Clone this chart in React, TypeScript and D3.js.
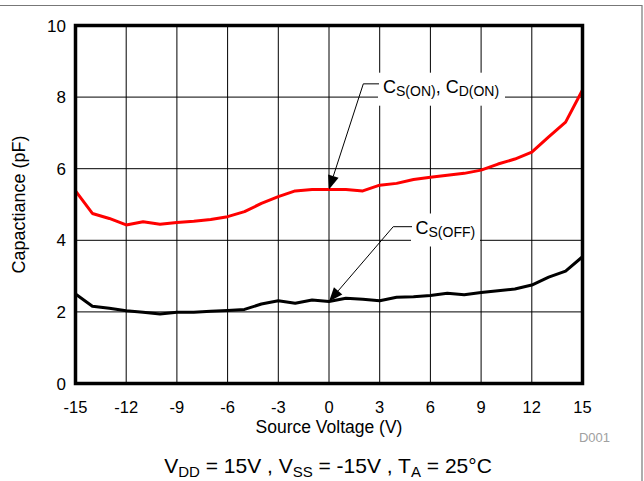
import React from "react";
import * as d3 from "d3";

// Source voltage sweep (V)
const voltages = [
  -15, -14, -13, -12, -11, -10, -9, -8, -7, -6, -5, -4, -3, -2, -1, 0, 1, 2, 3, 4, 5, 6, 7, 8, 9, 10, 11,
  12, 13, 14, 15,
];

// On-state capacitance C_S(ON), C_D(ON) (pF)
const cOn = [
  5.38, 4.75, 4.61, 4.43, 4.52, 4.45, 4.5, 4.53, 4.58, 4.66, 4.8, 5.03, 5.22, 5.38, 5.42, 5.42, 5.42, 5.38,
  5.54, 5.59, 5.7, 5.76, 5.82, 5.87, 5.96, 6.13, 6.27, 6.46, 6.89, 7.3, 8.2,
];

// Off-state capacitance C_S(OFF) (pF)
const cOff = [
  2.5, 2.16, 2.1, 2.03, 1.99, 1.94, 1.99, 1.99, 2.02, 2.04, 2.07, 2.22, 2.31, 2.24, 2.33, 2.29, 2.38, 2.35,
  2.31, 2.41, 2.42, 2.46, 2.52, 2.48, 2.54, 2.59, 2.64, 2.75, 2.97, 3.14, 3.54,
];

const xTicks = [-15, -12, -9, -6, -3, 0, 3, 6, 9, 12, 15];
const yTicks = [0, 2, 4, 6, 8, 10];

const FONT = "'Liberation Sans', Arial, Helvetica, sans-serif";

type Pt = [number, number];

function Arrow({ from, to }: { from: Pt; to: Pt }) {
  const dx = to[0] - from[0];
  const dy = to[1] - from[1];
  const len = Math.hypot(dx, dy);
  const ux = dx / len;
  const uy = dy / len;
  const headLen = 14;
  const halfW = 5.5;
  const bx = to[0] - ux * headLen;
  const by = to[1] - uy * headLen;
  const head = [
    [to[0], to[1]],
    [bx - uy * halfW, by + ux * halfW],
    [bx + uy * halfW, by - ux * halfW],
  ]
    .map((p) => p.join(","))
    .join(" ");
  return (
    <g>
      <line x1={from[0]} y1={from[1]} x2={bx} y2={by} stroke="#000" strokeWidth={1} />
      <polygon points={head} fill="#000" />
    </g>
  );
}

export default function App() {
  const W = 644;
  const H = 481;
  const x = d3.scaleLinear().domain([-15, 15]).range([75.5, 582.5]);
  const y = d3.scaleLinear().domain([0, 10]).range([383.5, 25.5]);

  const line = d3
    .line<number>()
    .x((_, i) => x(voltages[i]))
    .y((d) => y(d));

  const i0 = voltages.indexOf(0);

  // annotation geometry
  const onTip: Pt = [x(0), y(cOn[i0])];
  const onElbow: Pt = [x(2.03), y(8.37)];
  const onBaseline = 92.7;
  const offTip: Pt = [x(0), y(cOff[i0])];
  const offElbow: Pt = [x(3.8), y(4.38)];
  const offBaseline = 233.5;

  return (
    <div style={{ position: "fixed", left: 0, top: 0 }}>
      <svg width={W} height={H} style={{ display: "block", background: "#fff" }} fontFamily={FONT}>
        {/* outer frame */}
        <path d={`M0,5.5 H642 V${H}`} fill="none" stroke="#777" strokeWidth={1.2} />

        {/* grid */}
        {xTicks.map((t) => (
          <line key={"gx" + t} x1={x(t)} x2={x(t)} y1={y(0)} y2={y(10)} stroke="#000" strokeWidth={1} />
        ))}
        {yTicks.map((t) => (
          <line key={"gy" + t} x1={x(-15)} x2={x(15)} y1={y(t)} y2={y(t)} stroke="#000" strokeWidth={1} />
        ))}

        {/* label backgrounds */}
        <rect x={378} y={onBaseline - 20} width={127} height={33} fill="#fff" />
        <rect x={411} y={offBaseline - 20} width={69} height={33} fill="#fff" />

        {/* curves */}
        <path d={line(cOn) || ""} fill="none" stroke="#ff0000" strokeWidth={3} strokeLinejoin="round" />
        <path d={line(cOff) || ""} fill="none" stroke="#000" strokeWidth={3} strokeLinejoin="round" />

        {/* plot border */}
        <rect
          x={x(-15)}
          y={y(10)}
          width={x(15) - x(-15)}
          height={y(0) - y(10)}
          fill="none"
          stroke="#000"
          strokeWidth={3.5}
        />

        {/* annotations */}
        <line x1={onElbow[0]} y1={onElbow[1]} x2={379} y2={onElbow[1]} stroke="#000" strokeWidth={1} />
        <Arrow from={onElbow} to={onTip} />
        <text x={383} y={onBaseline} fontSize={18} fill="#000">
          C<tspan fontSize={14} dy={3}>S(ON)</tspan>
          <tspan dy={-3}>, C</tspan>
          <tspan fontSize={14} dy={3}>D(ON)</tspan>
        </text>

        <line x1={offElbow[0]} y1={offElbow[1]} x2={412} y2={offElbow[1]} stroke="#000" strokeWidth={1} />
        <Arrow from={offElbow} to={offTip} />
        <text x={415.5} y={offBaseline} fontSize={18} fill="#000">
          C<tspan fontSize={14} dy={3}>S(OFF)</tspan>
        </text>

        {/* y tick labels */}
        {yTicks.map((t) => (
          <text key={"ty" + t} x={66} y={y(t)} dy="0.36em" textAnchor="end" fontSize={17} fill="#000">
            {t}
          </text>
        ))}
        {/* x tick labels */}
        {xTicks.map((t) => (
          <text key={"tx" + t} x={x(t)} y={413} textAnchor="middle" fontSize={16.5} fill="#000">
            {t}
          </text>
        ))}

        {/* axis titles */}
        <text x={(x(-15) + x(15)) / 2} y={432.5} textAnchor="middle" fontSize={17.5} fill="#000">
          Source Voltage (V)
        </text>
        <text
          transform={`translate(25,${(y(0) + y(10)) / 2}) rotate(-90)`}
          textAnchor="middle"
          fontSize={18}
          fill="#000"
        >
          Capactiance (pF)
        </text>

        <text x={610} y={442} textAnchor="end" fontSize={13} fill="#a0a0a0">
          D001
        </text>

        {/* conditions */}
        <text x={328} y={473} textAnchor="middle" fontSize={21} fill="#000">
          V<tspan fontSize={15} dy={4}>DD</tspan>
          <tspan dy={-4}> = 15V , V</tspan>
          <tspan fontSize={15} dy={4}>SS</tspan>
          <tspan dy={-4}> = -15V , T</tspan>
          <tspan fontSize={15} dy={4}>A</tspan>
          <tspan dy={-4}> = 25°C</tspan>
        </text>
      </svg>
    </div>
  );
}
